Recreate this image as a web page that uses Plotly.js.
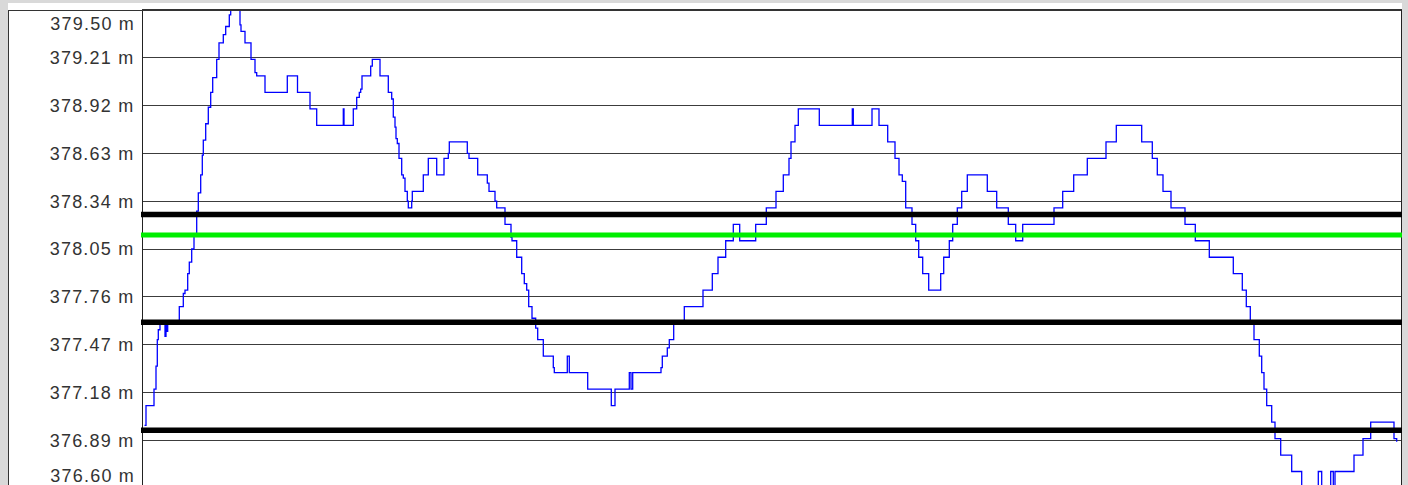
<!DOCTYPE html>
<html>
<head>
<meta charset="utf-8">
<script src="https://cdn.plot.ly/plotly-3.0.1.min.js"></script>
<style>
  html, body { margin:0; padding:0; width:1408px; height:485px; overflow:hidden; background:#d9d9d9; }
  #chart { position:absolute; left:8px; top:3px; width:1394px; height:490px; }
  #frame { position:absolute; left:8px; top:10px; width:1393px; height:480px;
           border-left:1px solid #333; border-top:1px solid #333; pointer-events:none; box-sizing:border-box; }
  #chart svg text { letter-spacing:1.2px !important; }
</style>
</head>
<body>
<div id="chart"></div>
<div id="frame"></div>
<script>
// distance along profile (arbitrary units) and elevation (m)
const distance = [1.5,3,11,13,14.3,15.3,17,22,23,24,24.7,36.3,40.3,42,44.7,46.3,48.7,51,53.7,55.3,57.7,59.3,60.3,62.7,65.3,67.7,69.7,73.7,76,80.3,82.7,86.3,87.7,97,98,102,108,112,113.7,122,144.3,154.5,167,173.7,200.3,201,210.3,213.7,216.3,217.7,219,227.7,229.3,237,245.3,248.7,250.3,252,253,254.3,256,258.7,260.3,262,264.3,265.3,268.7,269.3,280.3,285.3,293.7,301,305.3,306.3,324.3,326,334.7,344.3,346,352,353.7,362,368,369,373.7,378.7,381.3,383.7,385.7,389,392.7,394.7,400.3,410.3,411.3,424.3,426.3,444.7,468.3,472,486.3,488,489.7,518,519.3,524.3,526.3,530.7,541.3,560,569.3,575,582.7,590.3,596.7,612.7,623.3,633,640.3,646,648,652,655.3,676.3,709.3,710.3,729,736,744.7,752,756,759.3,762.7,769,772.7,775.7,779.7,785.7,797.7,800.7,806.3,809.7,814.3,818.7,824.3,844.3,853.7,865.3,872.7,879.7,911,919.7,930.7,944.3,963,973.3,998.7,1009.3,1014.3,1020,1028,1042,1052.3,1066.3,1090.3,1099.3,1103.3,1107.3,1111,1116.3,1118.7,1121,1123.7,1128.7,1132,1137.7,1148.7,1158.7,1175.3,1178.7,1187.7,1190.3,1192,1211,1220,1227.7,1251,1253.7];
const elevation = [376.98,377.10,377.20,377.34,377.50,377.56,377.60,377.52,377.60,377.55,377.61,377.70,377.78,377.80,377.90,377.97,378.05,378.14,378.28,378.39,378.50,378.62,378.71,378.81,378.91,379.00,379.09,379.20,379.30,379.35,379.40,379.47,379.50,379.41,379.37,379.30,379.20,379.12,379.10,379.00,379.10,379.00,378.90,378.80,378.90,378.80,378.90,378.97,379.00,379.02,379.10,379.16,379.20,379.10,379.00,378.96,378.85,378.79,378.72,378.69,378.60,378.50,378.48,378.40,378.34,378.30,378.34,378.40,378.50,378.60,378.50,378.60,378.63,378.70,378.63,378.60,378.50,378.45,378.40,378.34,378.30,378.20,378.12,378.10,378.00,377.90,377.84,377.80,377.70,377.63,377.57,377.50,377.40,377.33,377.30,377.40,377.30,377.20,377.10,377.20,377.30,377.20,377.30,377.33,377.40,377.45,377.50,377.61,377.70,377.80,377.90,378.00,378.10,378.20,378.10,378.20,378.30,378.40,378.50,378.60,378.70,378.80,378.90,378.80,378.90,378.80,378.90,378.80,378.70,378.60,378.50,378.46,378.30,378.20,378.10,378.00,377.90,377.80,377.90,378.00,378.10,378.20,378.30,378.40,378.50,378.40,378.30,378.20,378.10,378.20,378.30,378.40,378.50,378.60,378.70,378.80,378.70,378.60,378.50,378.40,378.30,378.20,378.10,378.00,377.90,377.80,377.70,377.60,377.50,377.40,377.30,377.20,377.10,377.00,376.90,376.80,376.70,376.58,376.70,376.58,376.70,376.58,376.70,376.80,376.90,377.00,376.90,376.88];

const tickValues = [376.60,376.89,377.18,377.47,377.76,378.05,378.34,378.63,378.92,379.21,379.50];
const tickLabels = ["376.60 m","376.89 m","377.18 m","377.47 m","377.76 m","378.05 m","378.34 m","378.63 m","378.92 m","379.21 m","379.50 m"];

// reference levels (m)
const blackLevels = [378.26, 377.605, 376.95];
const greenLevel = [378.135];

const yMin = tickValues[0], yMax = tickValues[tickValues.length-1];
const plotW = 1258;
const last = tickLabels.length - 1;

const shapes = [];
blackLevels.forEach(v => shapes.push({type:'line', xref:'paper', yref:'y', x0:-2/plotW, x1:1+3/plotW, y0:v, y1:v, line:{color:'#000000', width:5.5}}));
greenLevel.forEach(v => shapes.push({type:'line', xref:'paper', yref:'y', x0:-2/plotW, x1:1+3/plotW, y0:v, y1:v, line:{color:'#00ee00', width:5}}));

const font = {family:'"Liberation Sans", Arial, sans-serif', size:18, color:'#333333'};

// inner tick labels on main axis; the two end labels are nudged inside the frame (second axis)
const ticktext = tickLabels.map((t,i) => (i===0 || i===last) ? '' : t);
const endLabelPos = [yMin + 0.077, yMax - 0.081];   // label placement only
const endLabelText = [tickLabels[0], tickLabels[last]];

Plotly.newPlot('chart', [{
  x: distance, y: elevation, type:'scatter', mode:'lines',
  line:{shape:'hv', color:'#0000ff', width:1.3}, hoverinfo:'skip'
}, {
  x:[0], y:[yMin], yaxis:'y2', type:'scatter', mode:'markers', marker:{opacity:0}, hoverinfo:'skip', showlegend:false
}], {
  width:1394, height:490,
  margin:{l:135, r:1, t:7, b:5},
  paper_bgcolor:'#ffffff', plot_bgcolor:'#ffffff',
  showlegend:false,
  font:font,
  xaxis:{range:[0,plotW], showgrid:false, zeroline:false, showticklabels:false, ticks:'',
         showline:true, mirror:true, linecolor:'#333333', linewidth:1},
  yaxis:{range:[yMin,yMax], tickmode:'array', tickvals:tickValues, ticktext:ticktext,
         showgrid:true, gridcolor:'#3c3c3c', gridwidth:1, zeroline:false, ticks:'',
         ticklabelstandoff:4, tickfont:font,
         showline:true, mirror:true, linecolor:'#222222', linewidth:1},
  yaxis2:{overlaying:'y', side:'left', range:[yMin,yMax], tickmode:'array', tickvals:endLabelPos, ticktext:endLabelText,
          showgrid:false, zeroline:false, showline:false, ticks:'', ticklabelstandoff:7, tickfont:font},
  shapes: shapes
}, {staticPlot:true});
</script>
</body>
</html>
